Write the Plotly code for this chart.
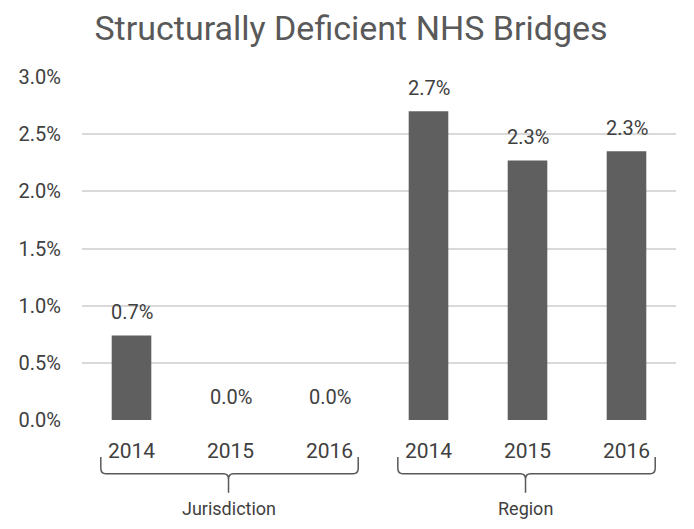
import plotly.graph_objects as go

groups = ["Jurisdiction", "Region"]
years = ["2014", "2015", "2016"]
categories = [f"{g} {y}" for g in groups for y in years]
values = [0.74, 0.0, 0.0, 2.70, 2.27, 2.35]
labels = ["0.7%", "0.0%", "0.0%", "2.7%", "2.3%", "2.3%"]
y_ticks = [0, 0.5, 1.0, 1.5, 2.0, 2.5, 3.0]
y_tick_labels = ["0.0%", "0.5%", "1.0%", "1.5%", "2.0%", "2.5%", "3.0%"]

FONT = "Roboto, Arial, sans-serif"
idx = list(range(len(categories)))

W, H = 686, 521

fig = go.Figure()
fig.add_trace(go.Bar(x=idx, y=values, marker=dict(color="#5f5f5f", line=dict(width=0)),
                     width=0.4, hoverinfo="skip"))

for i, v, t in zip(idx, values, labels):
    fig.add_annotation(x=i, y=v, text=t, showarrow=False, yanchor="bottom", yshift=9,
                       font=dict(family=FONT, size=20, color="#404040"))

# braces under groups
n = len(years)
for gi, g in enumerate(groups):
    x0 = gi * n - 0.31
    x1 = gi * n + n - 1 + 0.29
    xm = gi * n + (n - 1) / 2 - 0.02
    top, mid, tip = -0.108, -0.157, -0.212
    r = 0.05
    ry = 0.016
    path = (f"M {x0},{top} L {x0},{mid + ry} Q {x0},{mid} {x0 + r},{mid} "
            f"L {xm - r},{mid} Q {xm},{mid} {xm},{mid - ry} L {xm},{tip} "
            f"M {xm},{mid - ry} Q {xm},{mid} {xm + r},{mid} "
            f"L {x1 - r},{mid} Q {x1},{mid} {x1},{mid + ry} L {x1},{top}")
    fig.add_shape(type="path", path=path, xref="x", yref="paper",
                  line=dict(color="#595959", width=1.5))
    fig.add_annotation(x=xm, y=-0.257, xref="x", yref="paper", text=g, showarrow=False,
                       yanchor="middle", font=dict(family=FONT, size=18, color="#404040"))

fig.update_layout(
    width=W, height=H,
    margin=dict(l=74, r=18, t=69, b=109),
    paper_bgcolor="white", plot_bgcolor="white",
    showlegend=False,
    title=dict(text="Structurally Deficient NHS Bridges", x=0.5, xanchor="center",
               y=1 - 20 / H, yanchor="middle",
               font=dict(family=FONT, size=34, color="#595959")),
    xaxis=dict(tickmode="array", tickvals=idx, ticktext=years * len(groups),
               range=[-0.5, len(categories) - 0.5], showgrid=False, zeroline=False,
               showline=False, ticks="", ticklabelstandoff=16, automargin=False,
               tickfont=dict(family=FONT, size=21, color="#404040")),
    yaxis=dict(range=[0, 3.0], tickmode="array", tickvals=y_ticks, ticktext=y_tick_labels,
               showgrid=True, gridcolor="#d9d9d9", gridwidth=1.5, zeroline=False,
               showline=False, ticks="", ticklabelstandoff=20, automargin=False,
               tickfont=dict(family=FONT, size=20, color="#404040")),
)

fig.write_html("out.html")
